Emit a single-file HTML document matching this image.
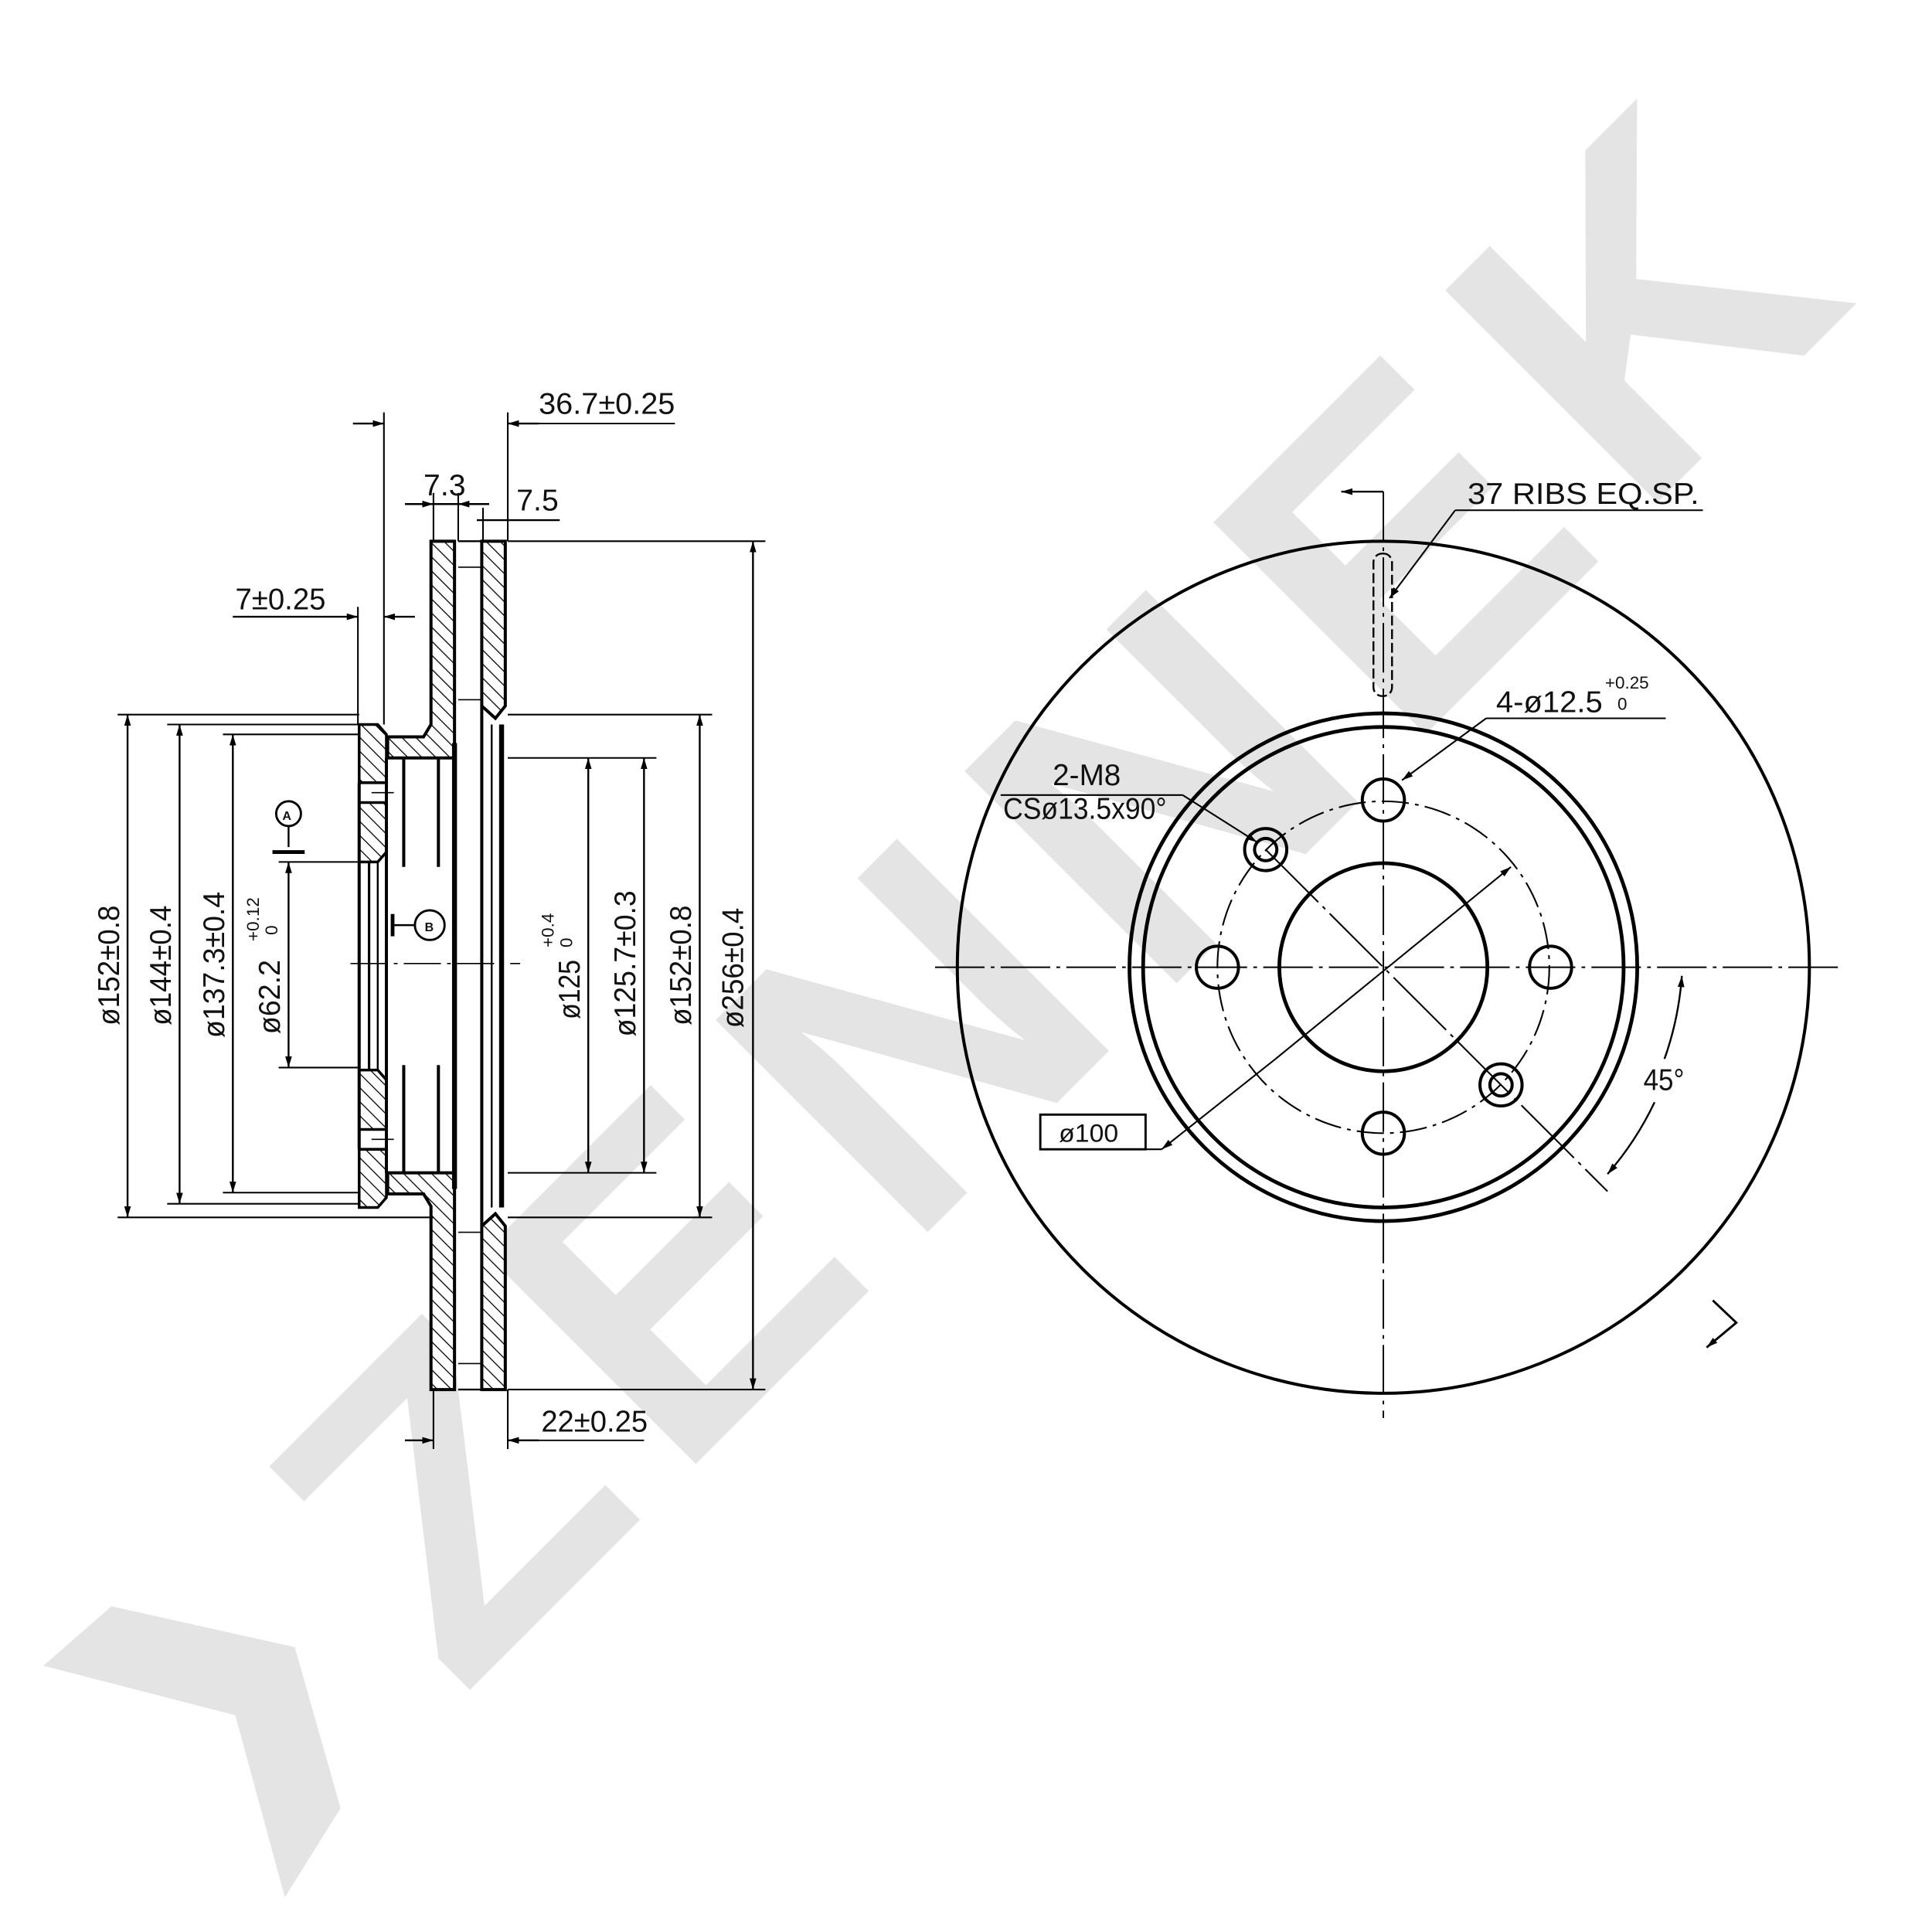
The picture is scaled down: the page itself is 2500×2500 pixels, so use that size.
<!DOCTYPE html>
<html><head><meta charset="utf-8"><style>
html,body{margin:0;padding:0;background:#fff;}
svg{display:block;}
text{font-family:"Liberation Sans",sans-serif;fill:#111;}
</style></head><body>
<svg width="2500" height="2500" viewBox="0 0 1560 1560" xmlns="http://www.w3.org/2000/svg">
<defs>
<pattern id="h" patternUnits="userSpaceOnUse" width="8" height="8" patternTransform="rotate(-45)">
<rect width="8" height="8" fill="#fff"/>
<line x1="0" y1="0" x2="0" y2="8" stroke="#000" stroke-width="1.6"/>
</pattern>
<marker id="a" viewBox="0 0 10 10" refX="10" refY="5" markerWidth="9" markerHeight="9" orient="auto-start-reverse" markerUnits="userSpaceOnUse">
<path d="M0,2 L10,5 L0,8 z" fill="#000"/></marker>
</defs>

<!-- watermark -->
<text x="372" y="1372" transform="rotate(-45 372 1372)" font-size="352" font-weight="bold" letter-spacing="30" style="fill:#e4e4e4">ZENNEK</text>
<polygon points="35,1345 90,1297 238,1330 275,1460 230,1532 190,1385" fill="#e4e4e4"/>

<g stroke="#000" fill="none" stroke-linecap="butt">
<!-- ===== LEFT SECTION VIEW ===== -->
<!-- rotor plates -->
<polygon points="348,437 367,437 367,612 313,612 313,595 342,595 348,585" fill="url(#h)" stroke-width="2.5"/>
<polygon points="348,1122 367,1122 367,947 313,947 313,964 342,964 348,974" fill="url(#h)" stroke-width="2.5"/>
<polygon points="389,437 408,437 408,570 400,580 389,570" fill="url(#h)" stroke-width="2.5"/>
<polygon points="389,1122 408,1122 408,990 400,980 389,990" fill="url(#h)" stroke-width="2.5"/>
<!-- hub ring -->
<polygon points="290,585 305,585 312,593 312,632 290,632" fill="url(#h)" stroke-width="2.2"/>
<polygon points="290,648 312,648 312,688 305,696 290,696" fill="url(#h)" stroke-width="2.2"/>
<polygon points="290,975 305,975 312,967 312,928 290,928" fill="url(#h)" stroke-width="2.2"/>
<polygon points="290,912 312,912 312,872 305,864 290,864" fill="url(#h)" stroke-width="2.2"/>
<line x1="290" y1="632" x2="290" y2="928" stroke-width="2.5"/>
<line x1="298" y1="696" x2="298" y2="864" stroke-width="2"/>
<line x1="305" y1="696" x2="305" y2="864" stroke-width="1.5"/>
<line x1="312" y1="612" x2="312" y2="947" stroke-width="2.5"/>
<line x1="326" y1="612" x2="326" y2="700" stroke-width="2.5"/>
<line x1="326" y1="860" x2="326" y2="947" stroke-width="2.5"/>
<line x1="354" y1="612" x2="354" y2="700" stroke-width="2.5"/>
<line x1="354" y1="860" x2="354" y2="947" stroke-width="2.5"/>
<line x1="367" y1="600" x2="367" y2="960" stroke-width="4"/>
<line x1="389" y1="570" x2="389" y2="990" stroke-width="2.5"/>
<line x1="397" y1="585" x2="397" y2="975" stroke-width="1.5"/>
<line x1="405" y1="585" x2="405" y2="975" stroke-width="4"/>
<line x1="370" y1="437" x2="389" y2="437" stroke-width="1.5"/>
<line x1="370" y1="1122" x2="389" y2="1122" stroke-width="1.5"/>
<line x1="370" y1="458" x2="389" y2="458" stroke-width="1"/>
<line x1="370" y1="1101" x2="389" y2="1101" stroke-width="1"/>
<line x1="370" y1="565" x2="389" y2="565" stroke-width="1"/>
<line x1="370" y1="995" x2="389" y2="995" stroke-width="1"/>
<line x1="300" y1="640" x2="318" y2="640" stroke-width="1"/>
<line x1="300" y1="920" x2="318" y2="920" stroke-width="1"/>
<!-- center line -->
<line x1="283" y1="778" x2="420" y2="778" stroke-width="1" stroke-dasharray="30,5,3,5"/>
<!-- A / B datums -->
<circle cx="233" cy="657" r="10" stroke-width="1.8"/>
<line x1="233" y1="667" x2="233" y2="684" stroke-width="1.5"/>
<line x1="220" y1="688" x2="246" y2="688" stroke-width="3"/>
<circle cx="347" cy="747" r="12" stroke-width="1.8"/>
<line x1="318" y1="747" x2="335" y2="747" stroke-width="1.5"/>
<line x1="317" y1="738" x2="317" y2="756" stroke-width="3"/>

<!-- extension lines -->
<g stroke-width="1.3">
<line x1="310" y1="333" x2="310" y2="585"/>
<line x1="410" y1="333" x2="410" y2="437"/>
<line x1="350" y1="398" x2="350" y2="437"/>
<line x1="370" y1="398" x2="370" y2="437"/>
<line x1="390" y1="410" x2="390" y2="437"/>
<line x1="289" y1="490" x2="289" y2="585"/>
<line x1="350" y1="1122" x2="350" y2="1170"/>
<line x1="410" y1="1122" x2="410" y2="1170"/>
<line x1="410" y1="437" x2="618" y2="437"/>
<line x1="410" y1="1122" x2="618" y2="1122"/>
<line x1="95" y1="577" x2="290" y2="577"/>
<line x1="95" y1="983" x2="350" y2="983"/>
<line x1="410" y1="577" x2="575" y2="577"/>
<line x1="410" y1="983" x2="575" y2="983"/>
<line x1="135" y1="585" x2="290" y2="585"/>
<line x1="135" y1="972" x2="290" y2="972"/>
<line x1="180" y1="593" x2="290" y2="593"/>
<line x1="180" y1="963" x2="290" y2="963"/>
<line x1="410" y1="612" x2="530" y2="612"/>
<line x1="410" y1="947" x2="530" y2="947"/>
<line x1="225" y1="696" x2="290" y2="696"/>
<line x1="225" y1="862" x2="290" y2="862"/>
</g>
<!-- dimension lines -->
<g stroke-width="1.5">
<line x1="285" y1="342" x2="310" y2="342" marker-end="url(#a)"/>
<line x1="435" y1="342" x2="410" y2="342" marker-end="url(#a)"/>
<line x1="410" y1="342" x2="545" y2="342" stroke-width="1.2"/>
<line x1="327" y1="407" x2="350" y2="407" marker-end="url(#a)"/>
<line x1="395" y1="407" x2="370" y2="407" marker-end="url(#a)"/>
<line x1="350" y1="407" x2="370" y2="407"/>
<line x1="385" y1="420" x2="452" y2="420"/>
<line x1="188" y1="498" x2="289" y2="498" marker-end="url(#a)"/>
<line x1="335" y1="498" x2="310" y2="498" marker-end="url(#a)"/>
<line x1="327" y1="1163" x2="350" y2="1163" marker-end="url(#a)"/>
<line x1="435" y1="1163" x2="410" y2="1163" marker-end="url(#a)"/>
<line x1="410" y1="1163" x2="520" y2="1163" stroke-width="1.2"/>
<line x1="103" y1="577" x2="103" y2="983" marker-start="url(#a)" marker-end="url(#a)"/>
<line x1="145" y1="585" x2="145" y2="972" marker-start="url(#a)" marker-end="url(#a)"/>
<line x1="188" y1="593" x2="188" y2="963" marker-start="url(#a)" marker-end="url(#a)"/>
<line x1="233" y1="696" x2="233" y2="862" marker-start="url(#a)" marker-end="url(#a)"/>
<line x1="475" y1="612" x2="475" y2="947" marker-start="url(#a)" marker-end="url(#a)"/>
<line x1="520" y1="612" x2="520" y2="947" marker-start="url(#a)" marker-end="url(#a)"/>
<line x1="565" y1="577" x2="565" y2="983" marker-start="url(#a)" marker-end="url(#a)"/>
<line x1="608" y1="437" x2="608" y2="1122" marker-start="url(#a)" marker-end="url(#a)"/>
</g>

<!-- ===== RIGHT FRONT VIEW ===== -->
<circle cx="1117" cy="781" r="344" stroke-width="2.5"/>
<circle cx="1117" cy="781" r="205" stroke-width="3"/>
<circle cx="1117" cy="781" r="194" stroke-width="3"/>
<circle cx="1117" cy="781" r="134" stroke-width="1.3" stroke-dasharray="22,5,3,5"/>
<circle cx="1117" cy="781" r="84" stroke-width="3"/>
<circle cx="1117" cy="646" r="17" stroke-width="2.5"/>
<circle cx="1117" cy="915" r="17" stroke-width="2.5"/>
<circle cx="983" cy="781" r="17" stroke-width="2.5"/>
<circle cx="1252" cy="781" r="17" stroke-width="2.5"/>
<circle cx="1022" cy="686" r="17" stroke-width="2.5"/>
<circle cx="1022" cy="686" r="9" stroke-width="2.5"/>
<circle cx="1212" cy="876" r="17" stroke-width="2.5"/>
<circle cx="1212" cy="876" r="9" stroke-width="2.5"/>
<line x1="755" y1="781" x2="1485" y2="781" stroke-width="1.2" stroke-dasharray="40,5,3,5"/>
<line x1="1117" y1="397" x2="1117" y2="1145" stroke-width="1.2" stroke-dasharray="40,5,3,5"/>
<line x1="1022" y1="686" x2="1298" y2="962" stroke-width="1.3" stroke-dasharray="60,5,3,5"/>
<line x1="1083" y1="397" x2="1117" y2="397" stroke-width="1.5" marker-start="url(#a)"/>
<!-- rib -->
<rect x="1109" y="447" width="15" height="115" rx="7" stroke-width="1.5" stroke-dasharray="8,3"/>
<!-- leaders -->
<g stroke-width="1.3">
<line x1="1175" y1="412" x2="1375" y2="412"/>
<line x1="1175" y1="412" x2="1122" y2="483" marker-end="url(#a)"/>
<line x1="1200" y1="580" x2="1345" y2="580"/>
<line x1="1200" y1="580" x2="1132" y2="630" marker-end="url(#a)"/>
<line x1="808" y1="642" x2="955" y2="642"/>
<line x1="955" y1="642" x2="1015" y2="680" marker-end="url(#a)"/>
<line x1="925" y1="928" x2="938" y2="928"/>
<line x1="938" y1="928" x2="1030" y2="855" marker-start="url(#a)"/>
<line x1="1030" y1="855" x2="1220" y2="700" marker-end="url(#a)"/>
</g>
<rect x="840" y="900" width="85" height="28" stroke-width="1.8"/>
<!-- 45 deg arc -->
<path d="M1358,788 A255,255 0 0 1 1344,855" stroke-width="1.5" marker-start="url(#a)"/>
<path d="M1336,890 A255,255 0 0 1 1298,948" stroke-width="1.5" marker-end="url(#a)"/>
<!-- section mark bottom right -->
<polyline points="1383,1050 1402,1068 1378,1088" stroke-width="1.8" marker-end="url(#a)"/>
</g>

<!-- ===== TEXT ===== -->
<g font-size="24">
<text x="435" y="334" textLength="110" lengthAdjust="spacingAndGlyphs">36.7±0.25</text>
<text x="342" y="400" textLength="34" lengthAdjust="spacingAndGlyphs">7.3</text>
<text x="417" y="412" textLength="34" lengthAdjust="spacingAndGlyphs">7.5</text>
<text x="190" y="492" textLength="73" lengthAdjust="spacingAndGlyphs">7±0.25</text>
<text x="437" y="1156" textLength="86" lengthAdjust="spacingAndGlyphs">22±0.25</text>
<text transform="translate(96,828) rotate(-90)" textLength="97" lengthAdjust="spacingAndGlyphs">ø152±0.8</text>
<text transform="translate(138,828) rotate(-90)" textLength="97" lengthAdjust="spacingAndGlyphs">ø144±0.4</text>
<text transform="translate(181,838) rotate(-90)" textLength="118" lengthAdjust="spacingAndGlyphs">ø137.3±0.4</text>
<text transform="translate(226,835) rotate(-90)" textLength="60" lengthAdjust="spacingAndGlyphs">ø62.2</text>
<text transform="translate(468,823) rotate(-90)" textLength="48" lengthAdjust="spacingAndGlyphs">ø125</text>
<text transform="translate(513,837) rotate(-90)" textLength="118" lengthAdjust="spacingAndGlyphs">ø125.7±0.3</text>
<text transform="translate(558,828) rotate(-90)" textLength="97" lengthAdjust="spacingAndGlyphs">ø152±0.8</text>
<text transform="translate(600,830) rotate(-90)" textLength="97" lengthAdjust="spacingAndGlyphs">ø256±0.4</text>
<text x="1185" y="407" textLength="187" lengthAdjust="spacingAndGlyphs">37 RIBS EQ.SP.</text>
<text x="1208" y="575" textLength="86" lengthAdjust="spacingAndGlyphs">4-ø12.5</text>
<text x="850" y="634" textLength="55" lengthAdjust="spacingAndGlyphs">2-M8</text>
<text x="810" y="661" textLength="132" lengthAdjust="spacingAndGlyphs">CSø13.5x90°</text>
<text x="1327" y="880" textLength="33" lengthAdjust="spacingAndGlyphs">45°</text>
<text x="855" y="922" font-size="20" textLength="48" lengthAdjust="spacingAndGlyphs">ø100</text>
</g>
<g font-size="14">
<text x="1296" y="556">+0.25</text>
<text x="1306" y="573">0</text>
<text transform="translate(209,760) rotate(-90)">+0.12</text>
<text transform="translate(224,755) rotate(-90)">0</text>
<text transform="translate(447,765) rotate(-90)">+0.4</text>
<text transform="translate(462,765) rotate(-90)">0</text>
<text x="228" y="662" font-size="10" font-weight="bold">A</text>
<text x="343" y="752" font-size="10" font-weight="bold">B</text>
</g>
</svg>
</body></html>
